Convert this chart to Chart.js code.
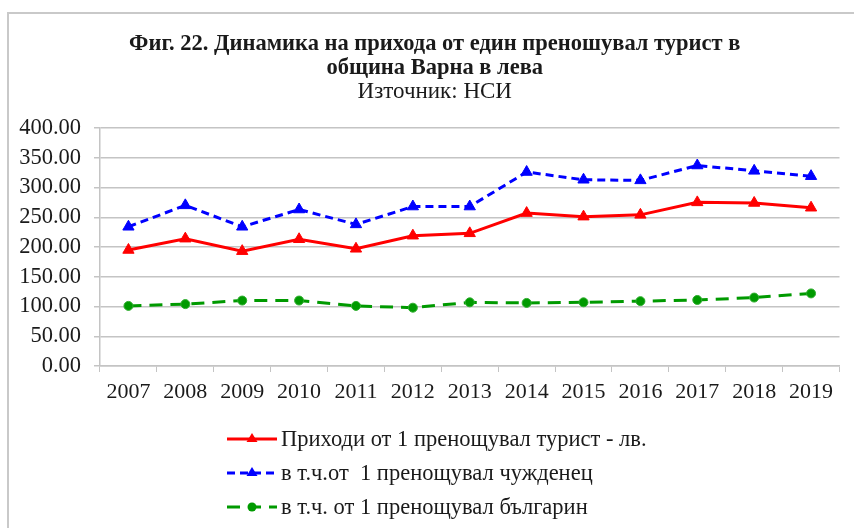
<!DOCTYPE html>
<html lang="bg">
<head>
    <meta charset="UTF-8">
    <title>Фиг. 22</title>
    <script src="https://cdn.jsdelivr.net/npm/chart.js"></script>
    <style>
        * {
            padding: 0;
            margin: 0;
        }
        body {
            width: 854px;
            height: 528px;
            background: #ffffff;
            overflow: hidden;
            position: relative;
            font-family: 'Liberation Serif', 'Times New Roman', serif;
        }
        .frame {
            position: absolute;
            left: 7px;
            top: 12px;
            width: 900px;
            height: 600px;
            border-left: 2px solid #c9c9c9;
            border-top: 2px solid #c9c9c9;
        }
        .chart-container {
            position: absolute;
            left: 0;
            top: 0;
            width: 854px;
            height: 528px;
        }
        #legend {
            position: absolute;
            left: 227px;
            top: 422px;
            list-style: none;
            font-size: 22.5px;
            color: #1a1a1a;
        }
        #legend li {
            display: flex;
            align-items: center;
            height: 34px;
            white-space: pre;
        }
        #legend svg {
            margin-right: 4px;
        }
    </style>
</head>
<body>
<div class="frame"></div>
<div class="chart-container">
    <canvas id="myChart"></canvas>
</div>
<ul id="legend"></ul>
<script>
    const years = ['2007', '2008', '2009', '2010', '2011', '2012', '2013', '2014', '2015', '2016', '2017', '2018', '2019'];
    const totalPerTourist = [195, 214, 193, 213, 197, 219, 223, 257, 251, 254, 275, 274, 266];
    const foreignPerTourist = [234, 270, 234, 263, 238, 268, 268, 326, 313, 312, 337, 328, 319];
    const bulgarianPerTourist = [101, 104, 110, 110, 101, 98, 107, 106, 107, 109, 111, 115, 122];
    const yTicks = [0, 50, 100, 150, 200, 250, 300, 350, 400];

    const seriesNames = [
        'Приходи от 1 пренощувал турист - лв.',
        'в т.ч.от  1 пренощувал чужденец',
        'в т.ч. от 1 пренощувал българин'
    ];

    const serif = "'Liberation Serif', 'Times New Roman', serif";
    const gridColor = '#c4c4c4';

    // the titles in the original sit a little right of the canvas centre
    const shiftTitles = {
        id: 'shiftTitles',
        afterLayout(chart) {
            chart.boxes.forEach(box => {
                if (box.position === 'top' && !box.axis) {
                    box.left += 15;
                    box.right += 15;
                }
            });
        }
    };

    const ctx = document.getElementById('myChart').getContext('2d');

    const chart = new Chart(ctx, {
        type: 'line',
        data: {
            labels: years,
            datasets: [{
                label: seriesNames[0],
                data: totalPerTourist,
                borderColor: '#ff0000',
                backgroundColor: '#ff0000',
                borderWidth: 3,
                pointStyle: 'triangle',
                pointRadius: 6.5,
                pointBorderWidth: 1
            }, {
                label: seriesNames[1],
                data: foreignPerTourist,
                borderColor: '#0000ff',
                backgroundColor: '#0000ff',
                borderWidth: 3,
                borderDash: [8, 5],
                pointStyle: 'triangle',
                pointRadius: 6.5,
                pointBorderWidth: 1
            }, {
                label: seriesNames[2],
                data: bulgarianPerTourist,
                borderColor: '#009a00',
                backgroundColor: '#009a00',
                borderWidth: 3,
                borderDash: [13, 8],
                pointStyle: 'circle',
                pointRadius: 4.5,
                pointBorderWidth: 1,
                pointBorderColor: '#2fae2f'
            }]
        },
        options: {
            responsive: true,
            maintainAspectRatio: false,
            animation: false,
            layout: {
                padding: { top: 32, left: 0, right: 14.5, bottom: 122 }
            },
            scales: {
                x: {
                    offset: true,
                    grid: {
                        offset: true,
                        drawOnChartArea: false,
                        drawTicks: true,
                        tickLength: 6,
                        color: gridColor
                    },
                    border: { color: gridColor, width: 1.5 },
                    ticks: {
                        color: '#1a1a1a',
                        padding: 7,
                        maxRotation: 0,
                        autoSkip: false,
                        font: { family: serif, size: 22 }
                    },
                    afterFit: function(scale) {
                        scale.height = 40;
                    }
                },
                y: {
                    min: 0,
                    max: 400,
                    afterBuildTicks: function(scale) {
                        scale.ticks = yTicks.map(v => ({ value: v }));
                    },
                    grid: {
                        color: gridColor,
                        lineWidth: 1.5,
                        tickLength: 6
                    },
                    border: { color: gridColor, width: 1.5 },
                    ticks: {
                        color: '#1a1a1a',
                        padding: 13,
                        autoSkip: false,
                        font: { family: serif, size: 22.5 },
                        callback: function(value) {
                            return Number(value).toFixed(2);
                        }
                    },
                    afterFit: function(scale) {
                        scale.width = 100;
                    }
                }
            },
            plugins: {
                legend: { display: false },
                tooltip: { enabled: false },
                title: {
                    display: true,
                    text: ['Фиг. 22. Динамика на прихода от един преношувал турист в', 'община Варна в лева'],
                    color: '#1a1a1a',
                    font: { family: serif, size: 22.5, weight: 'bold', lineHeight: 24 / 22.5 },
                    padding: { top: 0, bottom: 0 }
                },
                subtitle: {
                    display: true,
                    text: 'Източник: НСИ',
                    color: '#1a1a1a',
                    font: { family: serif, size: 23, lineHeight: 24 / 23 },
                    padding: { top: 0, bottom: 24 }
                }
            }
        },
        plugins: [shiftTitles]
    });

    // legend: line sample with marker, then the series name
    function buildLegend() {
        const list = document.getElementById('legend');
        chart.data.datasets.forEach(ds => {
            const dash = ds.borderDash ? ds.borderDash.join(' ') : 'none';
            let marker;
            if (ds.pointStyle === 'triangle') {
                marker = `<polygon points="25,11 30.5,20 19.5,20" fill="${ds.backgroundColor}"/>`;
            } else {
                marker = `<circle cx="25" cy="17" r="4.5" fill="${ds.backgroundColor}"/>`;
            }
            const li = document.createElement('li');
            li.innerHTML = `<svg width="50" height="34" viewBox="0 0 50 34">
                <line x1="0" y1="17" x2="50" y2="17" stroke="${ds.borderColor}" stroke-width="3" stroke-dasharray="${dash}"/>
                ${marker}</svg><span>${ds.label}</span>`;
            list.appendChild(li);
        });
    }
    buildLegend();
</script>
</body>
</html>
